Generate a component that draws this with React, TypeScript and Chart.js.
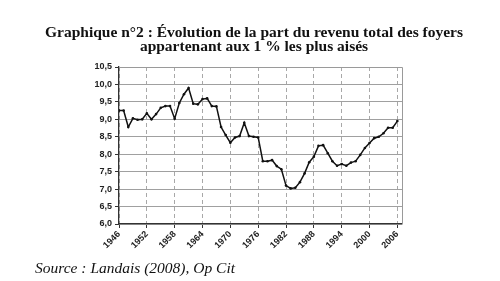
import React, { useEffect, useRef } from "react";
import { Chart, registerables } from "chart.js";

Chart.register(...registerables);

const TITLE_LINE_1 = "Graphique n°2 : Évolution de la part du revenu total des foyers";
const TITLE_LINE_2 = "appartenant aux 1 % les plus aisés";
const SOURCE = "Source : Landais (2008), Op Cit";

const FIRST_YEAR = 1946;
const TOP_1_SHARE = [
  9.25, 9.25, 8.78, 9.03, 8.99, 9.0, 9.17, 9.0, 9.15, 9.33,
  9.38, 9.38, 9.02, 9.47, 9.72, 9.9, 9.45, 9.43, 9.58, 9.6,
  9.38, 9.37, 8.78, 8.55, 8.33, 8.48, 8.52, 8.9, 8.52, 8.5,
  8.48, 7.8, 7.8, 7.83, 7.66, 7.57, 7.1, 7.02, 7.04, 7.2,
  7.45, 7.77, 7.93, 8.24, 8.26, 8.03, 7.8, 7.67, 7.72, 7.67,
  7.76, 7.8, 7.98, 8.18, 8.32, 8.46, 8.5, 8.6, 8.76, 8.76,
  8.95,
];
const YEARS = TOP_1_SHARE.map((_, i) => FIRST_YEAR + i);
const X_TICK_LABELS = [1946, 1952, 1958, 1964, 1970, 1976, 1982, 1988, 1994, 2000, 2006];
const X_MAX = 2007;
const Y_MIN = 6.0;
const Y_MAX = 10.5;
const Y_STEP = 0.5;

const frameBorder = {
  id: "frameBorder",
  afterDatasetsDraw(chart: any) {
    const { ctx, chartArea } = chart;
    ctx.save();
    ctx.strokeStyle = "#9a9a9a";
    ctx.lineWidth = 1;
    ctx.beginPath();
    ctx.moveTo(chartArea.left, chartArea.top + 0.5);
    ctx.lineTo(chartArea.right + 0.5, chartArea.top + 0.5);
    ctx.lineTo(chartArea.right + 0.5, chartArea.bottom);
    ctx.stroke();
    ctx.restore();
  },
};

export default function App() {
  const ref = useRef<HTMLCanvasElement>(null);

  useEffect(() => {
    if (!ref.current) return;
    const chart = new Chart(ref.current, {
      type: "line",
      data: {
        datasets: [
          {
            data: YEARS.map((y, i) => ({ x: y, y: TOP_1_SHARE[i] })),
            borderColor: "#111",
            backgroundColor: "#111",
            borderWidth: 1.5,
            pointRadius: 1.3,
            pointBorderWidth: 0,
            tension: 0,
          },
        ],
      },
      options: {
        responsive: false,
        animation: false,
        events: [],
        layout: { padding: { left: 0, top: 67, right: 98, bottom: 0 } },
        plugins: { legend: { display: false }, tooltip: { enabled: false } },
        scales: {
          x: {
            type: "linear",
            min: FIRST_YEAR,
            max: X_MAX,
            afterBuildTicks: (axis: any) => {
              axis.ticks = X_TICK_LABELS.map((v) => ({ value: v }));
            },
            afterFit: (scale: any) => {
              scale.height = 57;
            },
            ticks: {
              autoSkip: false,
              minRotation: 45,
              maxRotation: 45,
              padding: 1,
              color: "#222",
              font: { family: "'Liberation Sans', Arial, sans-serif", size: 9, weight: "bold" },
              callback: (v: any) => String(v),
            },
            grid: {
              color: "#a8a8a8",
              lineWidth: 1,
              tickLength: 4,
              tickColor: "#333",
            },
            border: { color: "#333", width: 1.3, dash: [4, 3] },
          },
          y: {
            min: Y_MIN,
            max: Y_MAX,
            afterFit: (scale: any) => {
              scale.width = 119;
            },
            ticks: {
              stepSize: Y_STEP,
              padding: 3,
              color: "#222",
              font: { family: "'Liberation Sans', Arial, sans-serif", size: 9, weight: "bold" },
              callback: (v: any) => Number(v).toFixed(1).replace(".", ","),
            },
            grid: {
              color: "#a0a0a0",
              lineWidth: 1,
              tickLength: 4,
              tickColor: "#333",
            },
            border: { color: "#333", width: 1.3 },
          },
        },
      },
      plugins: [frameBorder],
    });
    return () => chart.destroy();
  }, []);

  return (
    <div style={{ position: "fixed", left: 0, top: 0, width: 500, height: 281, background: "#fff", overflow: "hidden" }}>
      <canvas ref={ref} width={500} height={281} style={{ position: "absolute", left: 0, top: 0 }} />
      <div
        style={{
          position: "absolute",
          left: 4,
          top: 25,
          width: 500,
          textAlign: "center",
          fontFamily: "'Liberation Serif', 'Times New Roman', serif",
          fontWeight: "bold",
          fontSize: 15.5,
          lineHeight: "14px",
          color: "#111",
        }}
      >
        <div>{TITLE_LINE_1}</div>
        <div>{TITLE_LINE_2}</div>
      </div>
      <div
        style={{
          position: "absolute",
          left: 35,
          top: 259,
          fontFamily: "'Liberation Serif', 'Times New Roman', serif",
          fontStyle: "italic",
          fontSize: 15.5,
          lineHeight: "18px",
          color: "#111",
          whiteSpace: "nowrap",
        }}
      >
        {SOURCE}
      </div>
    </div>
  );
}
